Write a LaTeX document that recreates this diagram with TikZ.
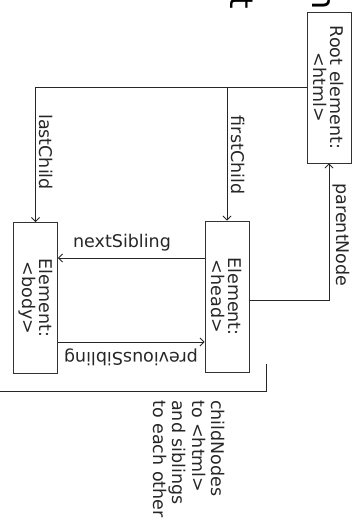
\documentclass[tikz,border=0pt]{standalone}
\usepackage{fontspec}
\setmainfont{DejaVu Sans}
\usetikzlibrary{arrows.meta}
\begin{document}
\begin{tikzpicture}[x=1pt,y=-1pt,
  every node/.style={font=\fontsize{17.5}{17}\selectfont, text=black!85},
  elbox/.style={draw=black!80, line width=0.9pt, rotate=-90, minimum width=151pt, minimum height=44pt, inner sep=0pt, align=center},
  conn/.style={draw=black!85, line width=0.9pt},
  arr/.style={conn, -{Straight Barb[length=4pt,width=8pt]}},
  lbl/.style={inner sep=0pt},
  vlbl/.style={lbl, rotate=-90},
  title/.style={font=\fontsize{32}{36}\selectfont, text=black, inner sep=0pt, outer sep=0pt, rotate=-90, anchor=base east}
]
\useasboundingbox (0,0) rectangle (362,530);
% clipped title fragments
\begin{scope}
  \clip (0,0) rectangle (362,530);
  \node[title] (t1) at (230,9) {t};
  \node[title] (t2) at (312,10) {n};
\end{scope}
% boxes
\node[elbox] (root) at (329,87.5) {Root element:\\<html>};
\node[elbox] (head) at (227,296.5) {Element:\\<head>};
\node[elbox] (body) at (35.5,298) {Element:\\<body>};
% child links
\draw[arr] (root.south) -| (body.west);
\draw[arr] (head.west |- root.south) -- (head.west);
\node[vlbl] (lc) at (46,152) {lastChild};
\node[vlbl] (fc) at (238,155) {firstChild};
% siblings
\draw[arr] (head.south |- 0,258) -- (body.north |- 0,258);
\node[lbl] (ns) at (122,243) {nextSibling};
\draw[arr] (body.north |- 0,342) -- (head.south |- 0,342);
\node[lbl, rotate=180] (ps) at (131,357) {previousSibling};
% parent
\draw[arr] (head.north |- 0,300) -| (root.east);
\node[vlbl] (pn) at (341,235) {parentNode};
% bracket
\coordinate (b1) at (266,364);
\coordinate (b2) at (0,391);
\draw[conn] (b1) |- (b2);
\node[vlbl, anchor=north west, align=left, font=\fontsize{17.5}{19.5}\selectfont] (cn) at (225,400) {childNodes\\to <html>\\and siblings\\to each other};
\end{tikzpicture}
\end{document}
